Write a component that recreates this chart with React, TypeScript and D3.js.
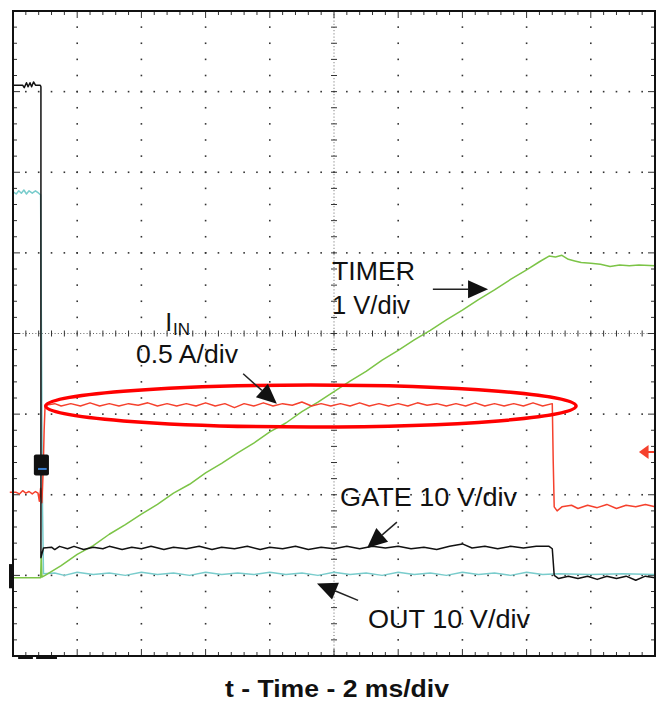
import * as d3 from 'd3'

// time in ms (2 ms/div, 10 div), vertical in divisions from screen centre (8 div)
const timeDomain: [number, number] = [0, 20]
const divDomain: [number, number] = [-4, 4]

// GATE 10 V/div (black)
const gate: [number, number][] = [
  [0, 3.08], [0.3, 3.08], [0.35, 3.05], [0.42, 3.11], [0.47, 3.06], [0.53, 3.11], [0.58, 3.06],
  [0.64, 3.12], [0.7, 3.08], [0.85, 3.08], [0.87, 3.06], [0.87, -2.78], [0.95, -2.66], [1.2, -2.65],
  [1.3, -2.68], [1.45, -2.64], [1.7, -2.67], [1.9, -2.64], [2.2, -2.68], [2.5, -2.65], [2.8, -2.67],
  [3.0, -2.64], [3.4, -2.68], [3.7, -2.65], [4.0, -2.67], [4.3, -2.64], [4.7, -2.68], [5.0, -2.65],
  [5.4, -2.67], [5.8, -2.64], [6.2, -2.68], [6.5, -2.65], [6.9, -2.67], [7.3, -2.64], [7.7, -2.68],
  [8.0, -2.65], [8.4, -2.67], [8.8, -2.64], [9.2, -2.68], [9.6, -2.65], [10.0, -2.67], [10.4, -2.64],
  [10.8, -2.67], [11.2, -2.64], [11.6, -2.66], [12.0, -2.64], [12.4, -2.67], [12.8, -2.65], [13.2, -2.68],
  [13.6, -2.64], [14.0, -2.61], [14.3, -2.66], [14.7, -2.64], [15.1, -2.67], [15.5, -2.64], [15.9, -2.66],
  [16.3, -2.64], [16.7, -2.64], [16.8, -2.67], [16.86, -3.0], [17.0, -3.04], [17.3, -3.01], [17.6, -3.04],
  [17.9, -3.01], [18.2, -3.05], [18.5, -3.01], [18.8, -3.04], [19.1, -3.01], [19.4, -3.06], [19.7, -3.01],
  [20, -3.03],
]

// OUT 10 V/div (cyan)
const out: [number, number][] = [
  [0, 1.76], [0.1, 1.73], [0.18, 1.77], [0.26, 1.74], [0.34, 1.78], [0.42, 1.73], [0.5, 1.77],
  [0.6, 1.74], [0.7, 1.77], [0.8, 1.74], [0.86, 1.72], [0.9, -1.0], [0.92, -2.2], [0.95, -2.98],
  [1.3, -2.97], [1.6, -3.0], [2.0, -2.96], [2.5, -2.99], [3.0, -2.97], [3.5, -3.0], [4.0, -2.96],
  [4.5, -2.99], [5.0, -2.97], [5.5, -3.0], [6.0, -2.96], [6.5, -2.99], [7.0, -2.97], [7.5, -2.99],
  [8.0, -2.96], [8.5, -2.99], [9.0, -2.97], [9.5, -3.0], [10.0, -2.96], [10.5, -2.99], [11.0, -2.97],
  [11.5, -3.0], [12.0, -2.96], [12.5, -2.99], [13.0, -2.97], [13.5, -3.0], [14.0, -2.96], [14.5, -2.99],
  [15.0, -2.97], [15.5, -3.0], [16.0, -2.96], [16.5, -2.99], [17.0, -2.98], [18.0, -2.99], [19.0, -2.98],
  [20, -2.99],
]

// IIN 0.5 A/div (red)
const iin: [number, number][] = [
  [-0.1, -1.97], [0.1, -1.97], [0.2, -1.99], [0.3, -1.95], [0.4, -1.98], [0.5, -1.96], [0.6, -1.99],
  [0.7, -1.96], [0.78, -1.98], [0.82, -2.08], [0.86, -1.92], [0.9, -2.1], [0.94, -1.7], [0.97, -1.2],
  [1.0, -0.89], [1.3, -0.87], [1.5, -0.9], [1.8, -0.87], [2.1, -0.9], [2.4, -0.86], [2.7, -0.9],
  [3.0, -0.87], [3.3, -0.9], [3.6, -0.87], [3.9, -0.89], [4.2, -0.86], [4.5, -0.9], [4.8, -0.87],
  [5.1, -0.9], [5.4, -0.87], [5.7, -0.9], [6.0, -0.86], [6.3, -0.9], [6.6, -0.87], [6.9, -0.92],
  [7.2, -0.87], [7.5, -0.9], [7.8, -0.86], [8.1, -0.9], [8.4, -0.87], [8.7, -0.89], [9.0, -0.85],
  [9.3, -0.9], [9.6, -0.87], [9.9, -0.9], [10.2, -0.87], [10.5, -0.9], [10.8, -0.86], [11.1, -0.9],
  [11.4, -0.87], [11.7, -0.9], [12.0, -0.87], [12.3, -0.9], [12.6, -0.86], [12.9, -0.89], [13.2, -0.87],
  [13.5, -0.9], [13.8, -0.87], [14.1, -0.9], [14.4, -0.86], [14.7, -0.9], [15.0, -0.87], [15.3, -0.9],
  [15.6, -0.87], [15.9, -0.9], [16.2, -0.86], [16.5, -0.9], [16.8, -0.87], [16.83, -1.6], [16.86, -2.15],
  [16.95, -2.2], [17.1, -2.15], [17.4, -2.13], [17.6, -2.17], [17.9, -2.13], [18.2, -2.16], [18.5, -2.12],
  [18.8, -2.17], [19.1, -2.13], [19.4, -2.15], [19.7, -2.12], [20, -2.15],
]

// TIMER 1 V/div (green)
const timer: [number, number][] = [
  [0, -3.03], [0.86, -3.03], [0.88, -2.74], [0.9, -3.02], [1.0, -3.0], [1.5, -2.88], [2.0, -2.74],
  [2.5, -2.63], [3.0, -2.49], [3.5, -2.37], [4.0, -2.24], [4.5, -2.12], [5.0, -1.98], [5.5, -1.87],
  [6.0, -1.73], [6.5, -1.61], [7.0, -1.48], [7.5, -1.36], [8.0, -1.22], [8.5, -1.11], [9.0, -0.97],
  [9.5, -0.85], [10.0, -0.72], [10.5, -0.59], [11.0, -0.47], [11.5, -0.33], [12.0, -0.21], [12.5, -0.08],
  [13.0, 0.04], [13.5, 0.17], [14.0, 0.29], [14.5, 0.42], [15.0, 0.54], [15.5, 0.67], [16.0, 0.79],
  [16.4, 0.89], [16.7, 0.96], [16.9, 0.95], [17.1, 0.97], [17.3, 0.92], [17.5, 0.9], [17.7, 0.88],
  [18.0, 0.87], [18.3, 0.86], [18.6, 0.83], [18.9, 0.85], [19.2, 0.84], [19.5, 0.85], [20, 0.84],
]

const traces = [
  { name: 'OUT', data: out, color: '#79cccc' },
  { name: 'TIMER', data: timer, color: '#7cc447' },
  { name: 'IIN', data: iin, color: '#f5412d' },
  { name: 'GATE', data: gate, color: '#111111' },
]

// annotation arrows, tail -> tip, in (ms, div)
const arrows: [number, number, number, number][] = [
  [13.08, 0.55, 14.8, 0.55],
  [7.17, -0.5, 8.22, -0.87],
  [11.96, -2.34, 11.03, -2.66],
  [10.75, -3.31, 9.47, -3.1],
]

export default function App() {
  const x = d3.scaleLinear().domain(timeDomain).range([13, 655])
  const y = d3.scaleLinear().domain(divDomain).range([656, 11])
  const line = d3.line<[number, number]>().x(d => x(d[0])).y(d => y(d[1]))

  const [x0, x1] = x.range()
  const [yb, yt] = y.range()
  const mx = (x1 - x0) / 50
  const my = (yb - yt) / 40
  const cx = x(10)
  const cy = y(0)

  const dots: JSX.Element[] = []
  // dotted major grid lines
  d3.range(1, 10).forEach(i => {
    if (i === 5) return
    d3.range(1, 40).forEach(k => {
      dots.push(<rect key={`v${i}-${k}`} x={x0 + i * 5 * mx - 0.8} y={yt + k * my - 0.8} width={1.6} height={1.6} fill="#333" />)
    })
  })
  d3.range(1, 8).forEach(j => {
    if (j === 4) return
    d3.range(1, 50).forEach(k => {
      dots.push(<rect key={`h${j}-${k}`} x={x0 + k * mx - 0.8} y={yt + j * 5 * my - 0.8} width={1.6} height={1.6} fill="#333" />)
    })
  })

  const ticks: JSX.Element[] = []
  d3.range(1, 50).forEach(k => {
    const xx = x0 + k * mx
    const len = k % 5 === 0 ? 7 : 4
    ticks.push(<line key={`tt${k}`} x1={xx} x2={xx} y1={yt} y2={yt + len} stroke="#333" strokeWidth={1} />)
    ticks.push(<line key={`tb${k}`} x1={xx} x2={xx} y1={yb} y2={yb - len} stroke="#333" strokeWidth={1} />)
    ticks.push(<line key={`tc${k}`} x1={xx} x2={xx} y1={cy - 3} y2={cy + 3} stroke="#333" strokeWidth={1} />)
  })
  d3.range(1, 40).forEach(k => {
    const yy = yt + k * my
    const len = k % 5 === 0 ? 7 : 4
    ticks.push(<line key={`tl${k}`} x1={x0} x2={x0 + len} y1={yy} y2={yy} stroke="#333" strokeWidth={1} />)
    ticks.push(<line key={`tr${k}`} x1={x1} x2={x1 - len} y1={yy} y2={yy} stroke="#333" strokeWidth={1} />)
    ticks.push(<line key={`tv${k}`} x1={cx - 3} x2={cx + 3} y1={yy} y2={yy} stroke="#333" strokeWidth={1} />)
  })

  const arrowEls = arrows.map((a, i) => {
    const [tx, ty, hx, hy] = [x(a[0]), y(a[1]), x(a[2]), y(a[3])]
    const ang = Math.atan2(hy - ty, hx - tx)
    const L = 20, w = 9
    const bx = hx - L * Math.cos(ang), by = hy - L * Math.sin(ang)
    const px = -Math.sin(ang) * w, py = Math.cos(ang) * w
    return (
      <g key={`a${i}`}>
        <line x1={tx} y1={ty} x2={bx} y2={by} stroke="#222" strokeWidth={1.5} />
        <polygon points={`${hx},${hy} ${bx + px},${by + py} ${bx - px},${by - py}`} fill="#111" />
      </g>
    )
  })

  const font = 'Liberation Sans, Arial, Helvetica, sans-serif'

  return (
    <div style={{ position: 'absolute', left: 0, top: 0 }}>
      <svg width={669} height={709} style={{ display: 'block', background: '#fff' }}>
        <rect x={0} y={0} width={669} height={709} fill="#fff" />
        {dots}
        {/* centre axes */}
        <line x1={cx} x2={cx} y1={yt} y2={yb} stroke="#666" strokeWidth={1} strokeDasharray="1 2.2" />
        <line x1={x0} x2={x1} y1={cy} y2={cy} stroke="#666" strokeWidth={1} strokeDasharray="1 2.2" />
        {ticks}

        {/* traces */}
        {traces.map(t => (
          <path key={t.name} d={line(t.data) || ''} fill="none" stroke={t.color} strokeWidth={1.5} strokeLinejoin="round" />
        ))}

        {/* scope markers */}
        <rect x={x(0.65)} y={y(-1.5)} width={x(1.12) - x(0.65)} height={y(-1.76) - y(-1.5)} rx={2} fill="#111" />
        <line x1={x(0.78)} x2={x(1.05)} y1={y(-1.68)} y2={y(-1.68)} stroke="#3a7fd0" strokeWidth={2} />
        <rect x={x0 - 4} y={y(-2.86)} width={5} height={y(-3.16) - y(-2.86)} fill="#111" />
        <rect x={x(0.16)} y={yb} width={x(0.62) - x(0.16)} height={3} fill="#111" />
        <rect x={x(0.72)} y={yb} width={x(1.37) - x(0.72)} height={3} fill="#111" />
        <line x1={x(19.75)} x2={x1} y1={y(-1.47)} y2={y(-1.47)} stroke="#f5412d" strokeWidth={2} />
        <polygon points={`${x(19.5)},${y(-1.47)} ${x(19.8)},${y(-1.47) - 7} ${x(19.8)},${y(-1.47) + 7}`} fill="#f5412d" />

        {/* border */}
        <rect x={x0} y={yt} width={x1 - x0} height={yb - yt} fill="none" stroke="#111" strokeWidth={2} />

        {/* highlight ellipse */}
        <ellipse cx={x(9.28)} cy={y(-0.9)} rx={x(8.26) - x(0)} ry={y(-0.26) - y(0)} fill="none" stroke="#ff0000" strokeWidth={3.5} />

        {arrowEls}

        {/* labels */}
        <g fontFamily={font} fontSize={25} fill="#111">
          <text x={x(9.94)} y={y(0.66)} textLength={83} lengthAdjust="spacingAndGlyphs">TIMER</text>
          <text x={x(9.94)} y={y(0.24)} textLength={78} lengthAdjust="spacingAndGlyphs">1 V/div</text>
          <text x={x(4.74)} y={y(0.03)}>
            I<tspan dx={1} dy={4} fontSize={17}>IN</tspan>
          </text>
          <text x={x(3.83)} y={y(-0.36)} textLength={102} lengthAdjust="spacingAndGlyphs">0.5 A/div</text>
          <text x={x(10.19)} y={y(-2.14)} textLength={177} lengthAdjust="spacingAndGlyphs">GATE 10 V/div</text>
          <text x={x(11.06)} y={y(-3.65)} textLength={162} lengthAdjust="spacingAndGlyphs">OUT 10 V/div</text>
        </g>
        <text x={225} y={697} fontFamily={font} fontSize={24} fontWeight="bold" fill="#111" textLength={224} lengthAdjust="spacingAndGlyphs">
          t - Time - 2 ms/div
        </text>
      </svg>
    </div>
  )
}
